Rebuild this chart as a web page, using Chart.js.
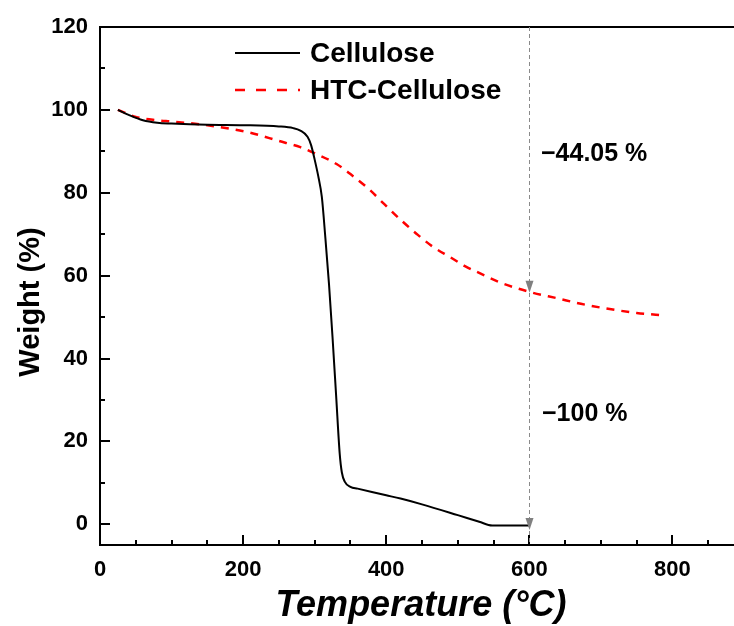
<!DOCTYPE html>
<html>
<head>
<meta charset="utf-8">
<script src="https://cdn.jsdelivr.net/npm/chart.js@4.4.1/dist/chart.umd.min.js"></script>
<style>
  html, body { margin: 0; padding: 0; background: #fff; overflow: hidden; }
  #wrap { width: 734px; height: 626px; }
</style>
</head>
<body>
<div id="wrap"><canvas id="tga"></canvas></div>
<script>
// TGA curves (temperature in °C, weight in %)
const celluloseTemp   = [25, 40, 60, 80, 100, 150, 200, 250, 270, 280, 290, 295, 300, 305, 310, 315, 320, 325, 330, 335, 338, 342, 350, 360, 380, 400, 420, 450, 500, 530, 548, 600];
const celluloseWeight = [100, 98.8, 97.5, 96.9, 96.7, 96.4, 96.3, 96.0, 95.6, 95.0, 93.5, 91.5, 88, 84, 79, 69, 58, 45, 31, 17, 12.5, 10.3, 9.0, 8.6, 7.8, 7.0, 6.2, 4.8, 2.2, 0.6, -0.3, -0.3];

const htcTemp   = [25, 50, 80, 100, 140, 180, 210, 250, 280, 303, 330, 350, 375, 397, 420, 443, 465, 490, 510, 532, 560, 602, 640, 672, 710, 750, 790];
const htcWeight = [100, 98.3, 97.5, 97.2, 96.5, 95.5, 94.5, 92.5, 91.0, 89.3, 87.0, 84.5, 81.0, 77.3, 73.5, 70.0, 67.0, 64.4, 62.3, 60.5, 58.3, 56.0, 54.5, 53.2, 52.0, 51.0, 50.4];

const xTickValues = [0, 200, 400, 600, 800];
const yTickValues = [0, 20, 40, 60, 80, 100, 120];

// weight-loss markers at 600 °C
const markerTemp    = 600;
const markerWeights = [55.9, -1.4];
const lossLabels    = ["\u221244.05 %", "\u2212100 %"];

const FONT = "'Liberation Sans', Arial, sans-serif";

function toPoints(xs, ys) {
  return xs.map((t, i) => ({ x: t, y: ys[i] }));
}

const tgaDecor = {
  id: "tgaDecor",
  afterDatasetsDraw(chart) {
    const { ctx, chartArea: a, scales: { x, y } } = chart;
    ctx.save();

    // top frame
    ctx.strokeStyle = "#000";
    ctx.lineWidth = 2;
    ctx.beginPath();
    ctx.moveTo(a.left - 1, a.top);
    ctx.lineTo(a.right, a.top);
    ctx.stroke();

    // inward ticks
    ctx.lineWidth = 2;
    for (let v = 0; v <= x.max; v += 50) {
      const px = Math.round(x.getPixelForValue(v));
      const len = v % 200 === 0 ? 10 : 5;
      ctx.beginPath();
      ctx.moveTo(px, a.bottom);
      ctx.lineTo(px, a.bottom - len);
      ctx.stroke();
    }
    for (let v = 0; v <= y.max; v += 10) {
      const py = Math.round(y.getPixelForValue(v));
      const len = v % 20 === 0 ? 10 : 5;
      ctx.beginPath();
      ctx.moveTo(a.left, py);
      ctx.lineTo(a.left + len, py);
      ctx.stroke();
    }

    // dashed guide at 600 °C
    const mx = Math.round(x.getPixelForValue(markerTemp)) + 0.5;
    ctx.strokeStyle = "#8a8a8a";
    ctx.lineWidth = 1;
    ctx.setLineDash([4, 3]);
    ctx.beginPath();
    ctx.moveTo(mx, a.top);
    ctx.lineTo(mx, a.bottom);
    ctx.stroke();
    ctx.setLineDash([]);

    ctx.fillStyle = "#808080";
    markerWeights.forEach((w) => {
      const ty = y.getPixelForValue(w);
      ctx.beginPath();
      ctx.moveTo(mx - 4, ty - 12);
      ctx.lineTo(mx + 4, ty - 12);
      ctx.lineTo(mx, ty);
      ctx.closePath();
      ctx.fill();
    });

    // loss labels
    ctx.fillStyle = "#000";
    ctx.font = "bold 25px " + FONT;
    ctx.textAlign = "left";
    ctx.textBaseline = "middle";
    ctx.fillText(lossLabels[0], 541, 154);
    ctx.fillText(lossLabels[1], 542, 414);

    // legend
    const rows = [53, 90];
    chart.data.datasets.forEach((ds, i) => {
      ctx.strokeStyle = ds.borderColor;
      ctx.lineWidth = ds.borderWidth;
      ctx.setLineDash(ds.borderDash ? [10, 11] : []);
      ctx.beginPath();
      ctx.moveTo(235, rows[i]);
      ctx.lineTo(300, rows[i]);
      ctx.stroke();
      ctx.setLineDash([]);
      ctx.font = "bold 28px " + FONT;
      ctx.fillText(ds.label, 310, rows[i] + 1);
    });

    // axis titles
    ctx.textAlign = "center";
    ctx.font = "italic bold 36px " + FONT;
    ctx.fillText("Temperature (\u00b0C)", 421, 606);

    ctx.translate(31, 302);
    ctx.rotate(-Math.PI / 2);
    ctx.font = "bold 29px " + FONT;
    ctx.fillText("Weight (%)", 0, 0);

    ctx.restore();
  },
};

new Chart(document.getElementById("tga"), {
  type: "line",
  data: {
    datasets: [
      {
        label: "Cellulose",
        data: toPoints(celluloseTemp, celluloseWeight),
        borderColor: "#000000",
        borderWidth: 2,
        pointRadius: 0,
        cubicInterpolationMode: "monotone",
        fill: false,
      },
      {
        label: "HTC-Cellulose",
        data: toPoints(htcTemp, htcWeight),
        borderColor: "#ff0000",
        borderWidth: 2.5,
        borderDash: [8, 7],
        pointRadius: 0,
        cubicInterpolationMode: "monotone",
        fill: false,
      },
    ],
  },
  options: {
    responsive: true,
    maintainAspectRatio: false,
    animation: false,
    layout: { padding: { top: 27, right: 0, left: 0, bottom: 0 } },
    plugins: {
      legend: { display: false },
      tooltip: { enabled: false },
    },
    scales: {
      x: {
        type: "linear",
        min: 0,
        max: 886,
        afterBuildTicks: (s) => { s.ticks = xTickValues.map((v) => ({ value: v })); },
        afterFit: (s) => { s.height = 81; },
        ticks: { color: "#000", font: { family: FONT, size: 22, weight: "bold" }, padding: 12, maxRotation: 0 },
        grid: { display: false, drawTicks: false },
        border: { display: true, color: "#000", width: 2 },
      },
      y: {
        min: -5,
        max: 120,
        afterBuildTicks: (s) => { s.ticks = yTickValues.map((v) => ({ value: v })); },
        afterFit: (s) => { s.width = 100; },
        ticks: { color: "#000", font: { family: FONT, size: 22, weight: "bold" }, padding: 12 },
        grid: { display: false, drawTicks: false },
        border: { display: true, color: "#000", width: 2 },
      },
    },
  },
  plugins: [tgaDecor],
});
</script>
</body>
</html>
